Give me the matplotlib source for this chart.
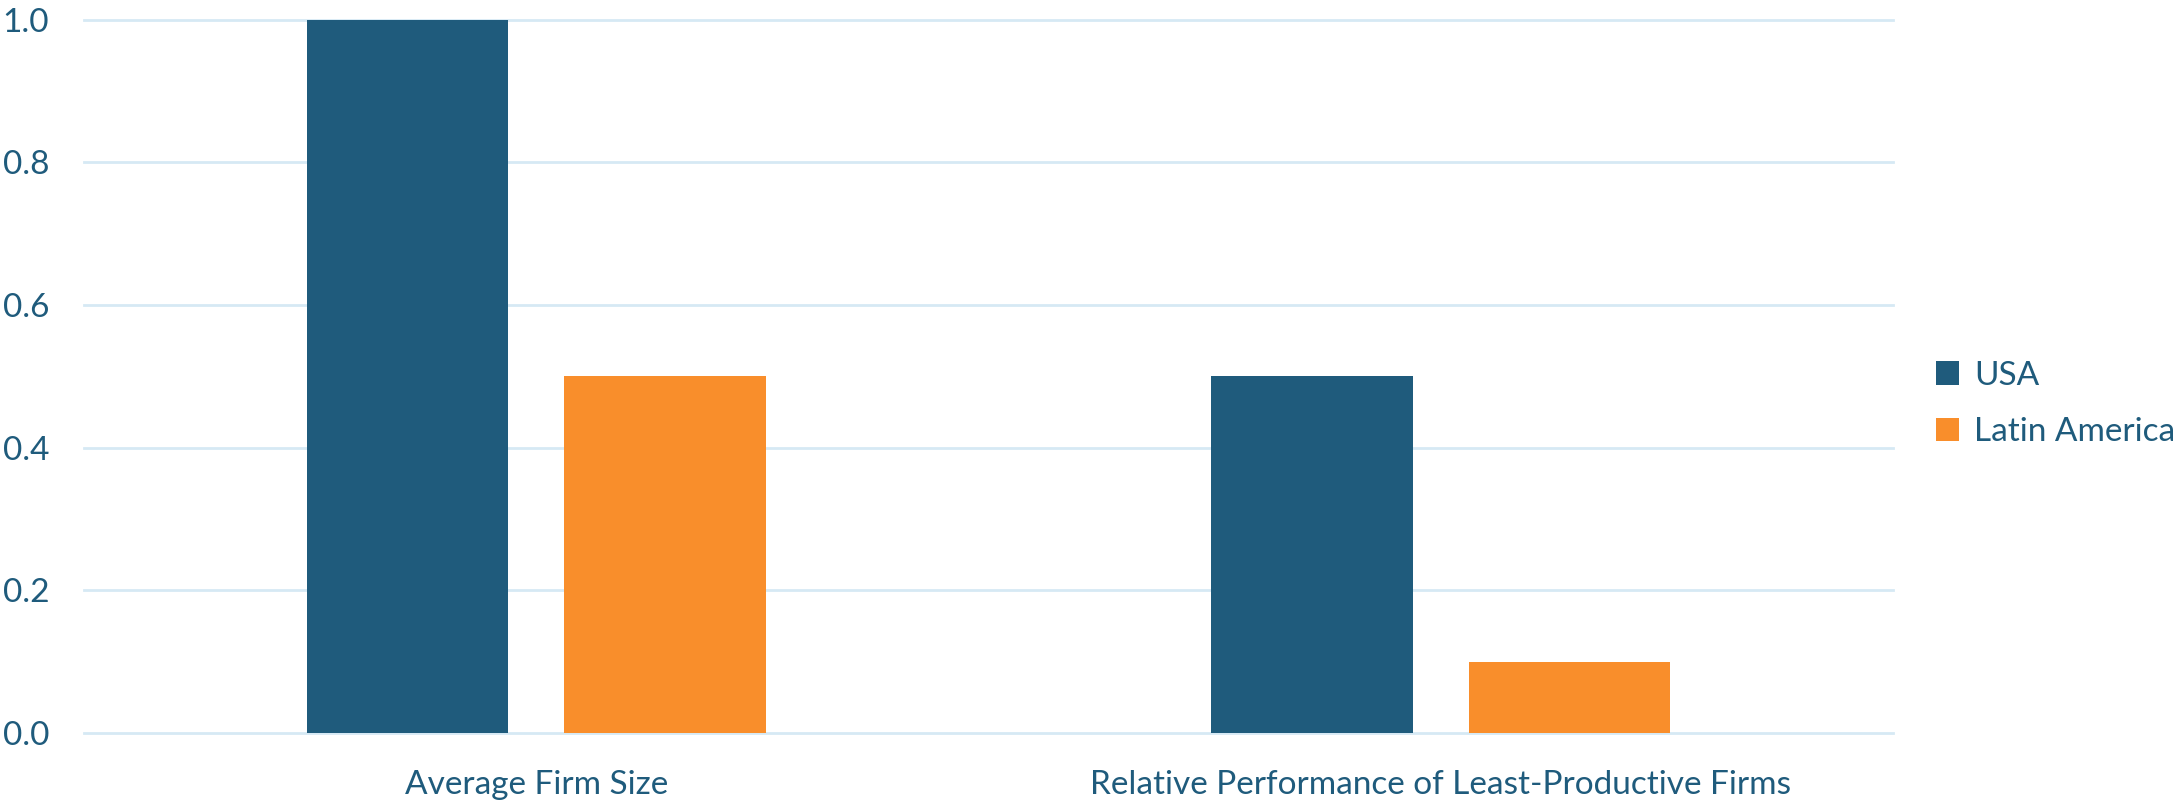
import numpy as np
import matplotlib
matplotlib.use('Agg')
import matplotlib.pyplot as plt

categories = ['Average Firm Size', 'Relative Performance of Least-Productive Firms']
usa = [1.0, 0.5]
latam = [0.5, 0.1]
yticks = [0.0, 0.2, 0.4, 0.6, 0.8, 1.0]

navy = '#1F5B7C'
orange = '#F98E2B'
grid_c = '#D6E9F4'

plt.rcParams['font.family'] = ['Lato', 'DejaVu Sans']

fig = plt.figure(figsize=(21.82, 8.08), dpi=100)
ax = fig.add_axes([84 / 2182, 1 - 733 / 808, 1809 / 2182, 713.5 / 808])

x = np.arange(len(categories))
w = 0.223
off = 0.1423
ax.bar(x - off, usa, w, color=navy, label='USA', zorder=3)
ax.bar(x + off, latam, w, color=orange, label='Latin America', zorder=3)

ax.set_xlim(-0.5, 1.5)
ax.set_ylim(0, 1.0)
ax.set_yticks(yticks)
ax.set_yticklabels(['%.1f' % v for v in yticks])
ax.set_xticks(x)
ax.set_xticklabels(categories)
for v in yticks:
    ax.axhline(v, color=grid_c, lw=2, zorder=1, clip_on=False)

for s in ax.spines.values():
    s.set_visible(False)
ax.tick_params(axis='both', length=0, labelsize=24, colors=navy)
ax.tick_params(axis='y', pad=25)
ax.tick_params(axis='x', pad=27)

fig.legend(loc='center left', bbox_to_anchor=(1936 / 2182, 1 - 404 / 808),
           frameon=False, fontsize=24, labelcolor=navy,
           borderaxespad=0, borderpad=0,
           handlelength=0.7, handleheight=0.7, handletextpad=0.45,
           labelspacing=0.8)

fig.savefig('out.png', dpi=100)
